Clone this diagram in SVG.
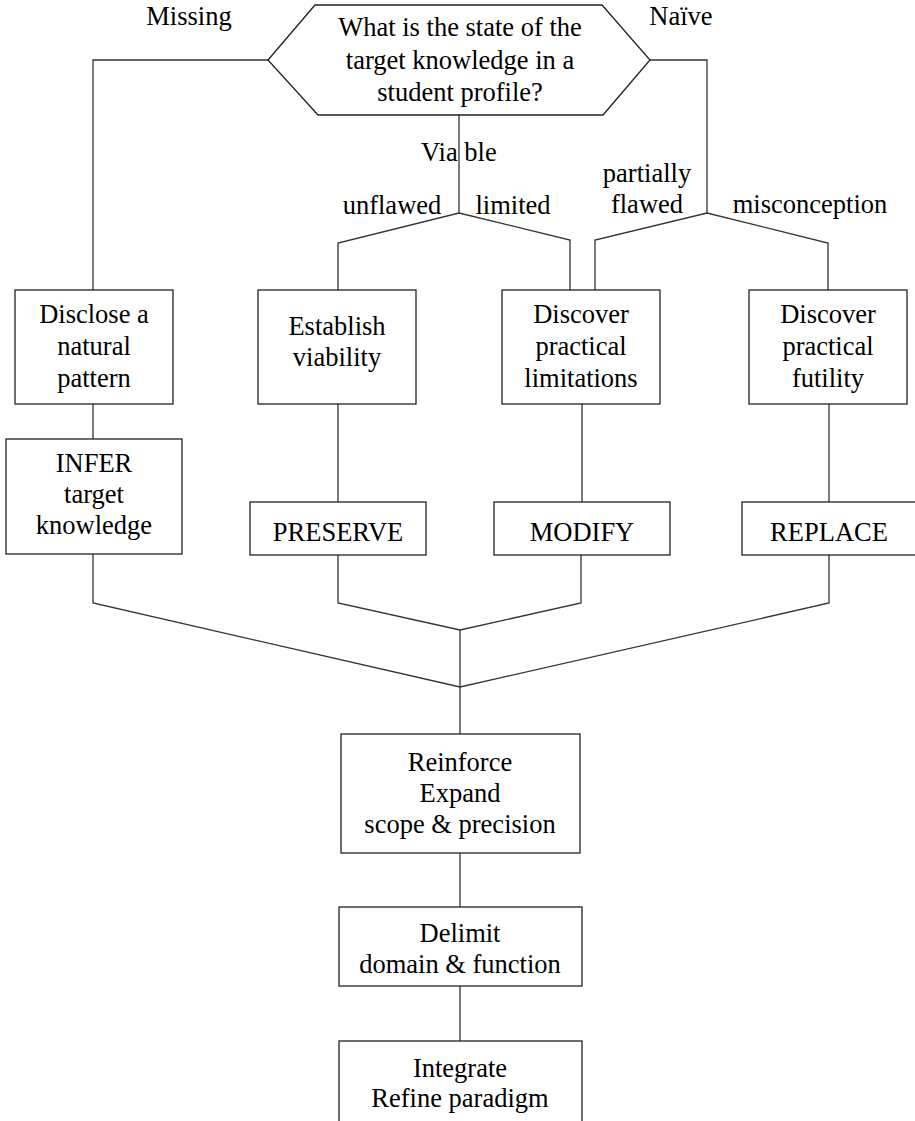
<svg xmlns="http://www.w3.org/2000/svg" width="915" height="1121" viewBox="0 0 915 1121">
<style>
.b{fill:#fff;stroke:#222;stroke-width:1.3}
.c{fill:none;stroke:#333;stroke-width:1.3}
text{font-family:'Liberation Serif','Times New Roman',serif;font-size:26.5px;fill:#000}
.m{text-anchor:middle}
</style>
<rect width="915" height="1121" fill="#fff"/>
<g id="connectors">
<polyline class="c" points="268,60 93,60 93,290"/>
<polyline class="c" points="650,60 707,60 707,213"/>
<line class="c" x1="459" y1="115" x2="459" y2="213"/>
<polyline class="c" points="338,290 338,243 459,213 570,240 570,290"/>
<polyline class="c" points="595,290 595,240 707,213 828,243 828,290"/>
<line class="c" x1="93" y1="404" x2="93" y2="439"/>
<line class="c" x1="338" y1="404" x2="338" y2="502"/>
<line class="c" x1="582" y1="404" x2="582" y2="502"/>
<line class="c" x1="829" y1="404" x2="829" y2="502"/>
<polyline class="c" points="338,555 338,603 460,630 581,603 581,555"/>
<polyline class="c" points="93,554 93,603 460,687 829,603 829,555"/>
<line class="c" x1="460" y1="630" x2="460" y2="734"/>
<line class="c" x1="460" y1="853" x2="460" y2="907"/>
<line class="c" x1="460" y1="986" x2="460" y2="1041"/>
</g>
<g id="labels">
<text class="m" x="189" y="25">Missing</text>
<text class="m" x="681" y="25">Naïve</text>
<text x="421" y="161">Via ble</text>
<text class="m" x="392" y="214">unflawed</text>
<text class="m" x="513" y="214">limited</text>
<text class="m" x="647" y="182">partially</text>
<text class="m" x="647" y="213">flawed</text>
<text class="m" x="810" y="213">misconception</text>
</g>
<g id="question">
<polygon class="b" points="268,60 315,5 602,5 650,60 603,115 318,115"/>
<text class="m" x="460" y="36">What is the state of the</text>
<text class="m" x="460" y="69">target knowledge in a</text>
<text class="m" x="460" y="101">student profile?</text>
</g>
<g id="disclose">
<rect class="b" x="15" y="290" width="158" height="114"/>
<text class="m" x="94" y="323">Disclose a</text>
<text class="m" x="94" y="355">natural</text>
<text class="m" x="94" y="387">pattern</text>
</g>
<g id="establish">
<rect class="b" x="258" y="290" width="158" height="114"/>
<text class="m" x="337" y="335">Establish</text>
<text class="m" x="337" y="366">viability</text>
</g>
<g id="limitations">
<rect class="b" x="502" y="290" width="158" height="114"/>
<text class="m" x="581" y="323">Discover</text>
<text class="m" x="581" y="355">practical</text>
<text class="m" x="581" y="387">limitations</text>
</g>
<g id="futility">
<rect class="b" x="749" y="290" width="158" height="114"/>
<text class="m" x="828" y="323">Discover</text>
<text class="m" x="828" y="355">practical</text>
<text class="m" x="828" y="387">futility</text>
</g>
<g id="infer">
<rect class="b" x="6" y="439" width="176" height="115"/>
<text class="m" x="94" y="472">INFER</text>
<text class="m" x="94" y="503">target</text>
<text class="m" x="94" y="534">knowledge</text>
</g>
<g id="preserve">
<rect class="b" x="250" y="502" width="176" height="53"/>
<text class="m" x="338" y="541">PRESERVE</text>
</g>
<g id="modify">
<rect class="b" x="494" y="502" width="176" height="53"/>
<text class="m" x="582" y="541">MODIFY</text>
</g>
<g id="replace">
<rect class="b" x="742" y="502" width="174" height="53"/>
<text class="m" x="829" y="541">REPLACE</text>
</g>
<g id="reinforce">
<rect class="b" x="341" y="734" width="239" height="119"/>
<text class="m" x="460" y="771">Reinforce</text>
<text class="m" x="460" y="802">Expand</text>
<text class="m" x="460" y="833">scope &amp; precision</text>
</g>
<g id="delimit">
<rect class="b" x="339" y="907" width="243" height="79"/>
<text class="m" x="460" y="942">Delimit</text>
<text class="m" x="460" y="973">domain &amp; function</text>
</g>
<g id="integrate">
<rect class="b" x="339" y="1041" width="243" height="100"/>
<text class="m" x="460" y="1077">Integrate</text>
<text class="m" x="460" y="1107">Refine paradigm</text>
</g>
</svg>
